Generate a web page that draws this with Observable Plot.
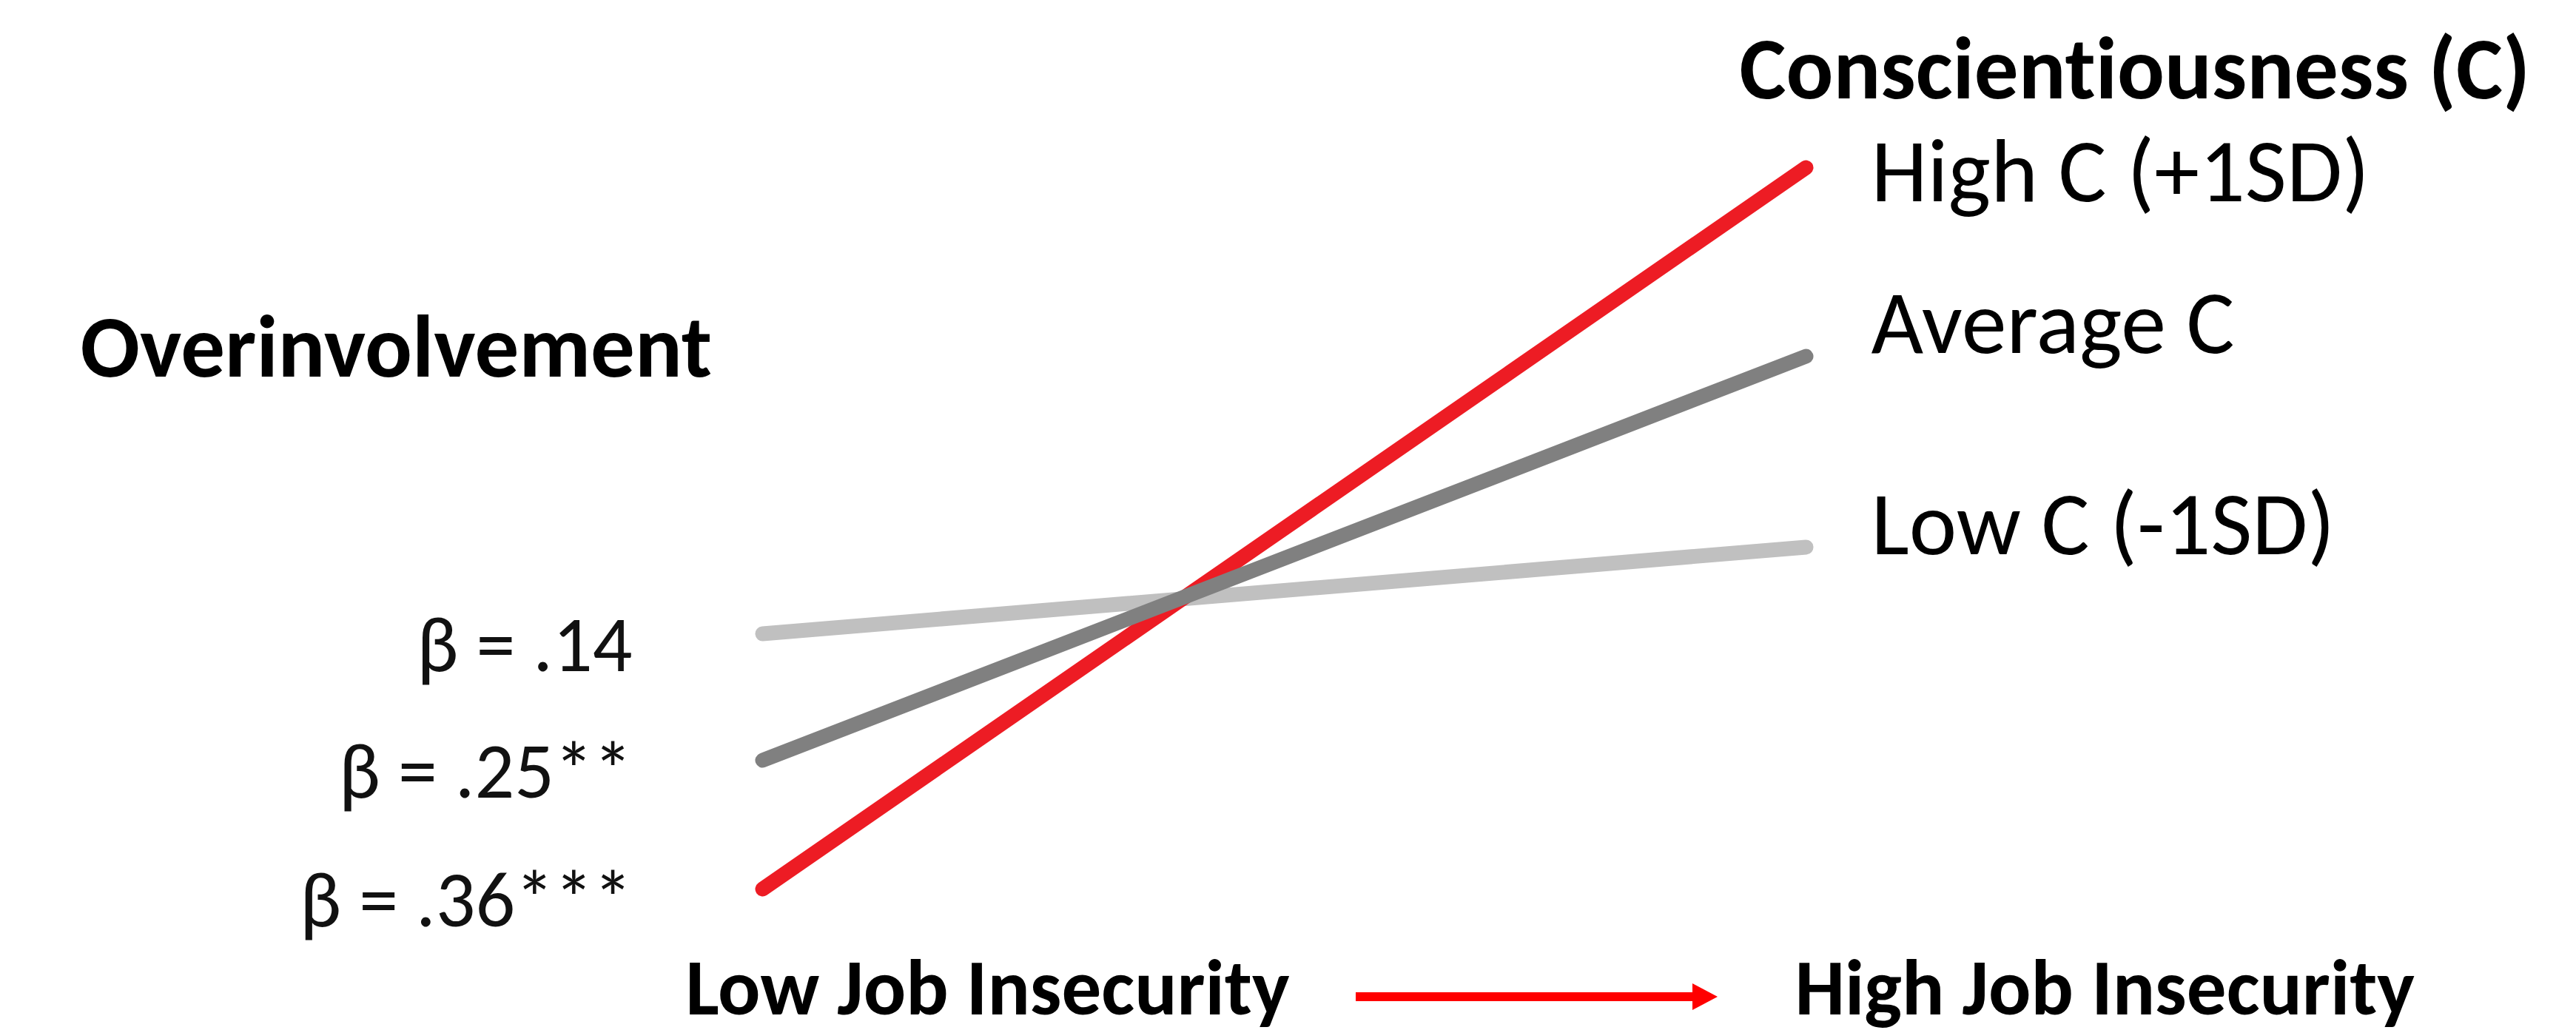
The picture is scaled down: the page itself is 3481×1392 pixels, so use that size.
<!DOCTYPE html>
<html>
<head>
<meta charset="utf-8">
<script src="https://cdn.jsdelivr.net/npm/d3@7"></script>
<script src="https://cdn.jsdelivr.net/npm/@observablehq/plot@0.6"></script>
<style>
html, body { margin: 0; padding: 0; background: #fff; overflow: hidden; }
svg text { font-variant-ligatures: none; font-feature-settings: "liga" 0, "clig" 0; }
</style>
</head>
<body>
<div id="chart"></div>
<script>
// ---- data ----
const jobInsecurityLabels = ["Low Job Insecurity", "High Job Insecurity"];
const jobInsecurityX = [0, 1];
const groups = ["High C (+1SD)", "Average C", "Low C (-1SD)"];
const overinvolvementLowJI = [1.33, 1.91, 2.48];
const overinvolvementHighJI = [4.58, 3.73, 2.87];
const betas = ["\u03B2 = .36***", "\u03B2 = .25**", "\u03B2 = .14"];
const groupColors = ["#ED1C24", "#808080", "#C0C0C0"];
const yTitle = "Overinvolvement";
const legendTitle = "Conscientiousness (C)";

// ---- build table ----
const drawOrder = [2, 0, 1];
const rows = [];
for (const i of drawOrder) {
  rows.push({group: groups[i], x: jobInsecurityX[0], y: overinvolvementLowJI[i]});
  rows.push({group: groups[i], x: jobInsecurityX[1], y: overinvolvementHighJI[i]});
}
const starts = groups.map((g, i) => ({group: g, x: jobInsecurityX[0], y: overinvolvementLowJI[i], beta: betas[i]}));
const ends = groups.map((g, i) => ({group: g, x: jobInsecurityX[1], y: overinvolvementHighJI[i]}));

const font = "Carlito, Calibri, 'Open Sans', sans-serif";
const labelDy = [45, -5, 9];

const arrowMark = () => {
  const g = d3.create("svg:g");
  g.append("rect").attr("x", 1832).attr("y", 1341).attr("width", 457).attr("height", 12).attr("fill", "#FF0000");
  g.append("path").attr("d", "M2287,1329L2321,1347L2287,1365Z").attr("fill", "#FF0000");
  return g.node();
};

const chart = Plot.plot({
  width: 3481,
  height: 1392,
  margin: 0,
  style: {fontFamily: font, background: "#fff", color: "#000"},
  x: {domain: [0, 1], range: [1030, 2440], axis: null},
  y: {domain: [1, 5], range: [1300, 100], axis: null},
  color: {domain: groups, range: groupColors},
  marks: [
    Plot.line(rows, {x: "x", y: "y", z: "group", stroke: "group", strokeWidth: 20, strokeLinecap: "round"}),
    Plot.text(starts, {x: "x", y: "y", text: "beta", textAnchor: "end", lineAnchor: "bottom", dx: -176, dy: 50, fontSize: 106, fill: "#111"}),
    ...ends.map((d, i) => Plot.text([d], {x: "x", y: "y", text: "group", textAnchor: "start", lineAnchor: "bottom", dx: 88, dy: labelDy[i], fontSize: 122, fill: "#000"})),
    Plot.text([legendTitle], {frameAnchor: "top-left", dx: 2350, dy: 132, lineAnchor: "bottom", textAnchor: "start", fontWeight: "bold", fontSize: 119, fill: "#000"}),
    Plot.text([yTitle], {frameAnchor: "top-left", dx: 108, dy: 508, lineAnchor: "bottom", textAnchor: "start", fontWeight: "bold", fontSize: 119, fill: "#000"}),
    Plot.text([jobInsecurityLabels[0]], {frameAnchor: "top-left", dx: 926, dy: 1370, lineAnchor: "bottom", textAnchor: "start", fontWeight: "bold", fontSize: 107, fill: "#000"}),
    Plot.text([jobInsecurityLabels[1]], {frameAnchor: "top-left", dx: 2425, dy: 1370, lineAnchor: "bottom", textAnchor: "start", fontWeight: "bold", fontSize: 107, fill: "#000"}),
    arrowMark
  ]
});
document.getElementById("chart").appendChild(chart);
</script>
</body>
</html>
